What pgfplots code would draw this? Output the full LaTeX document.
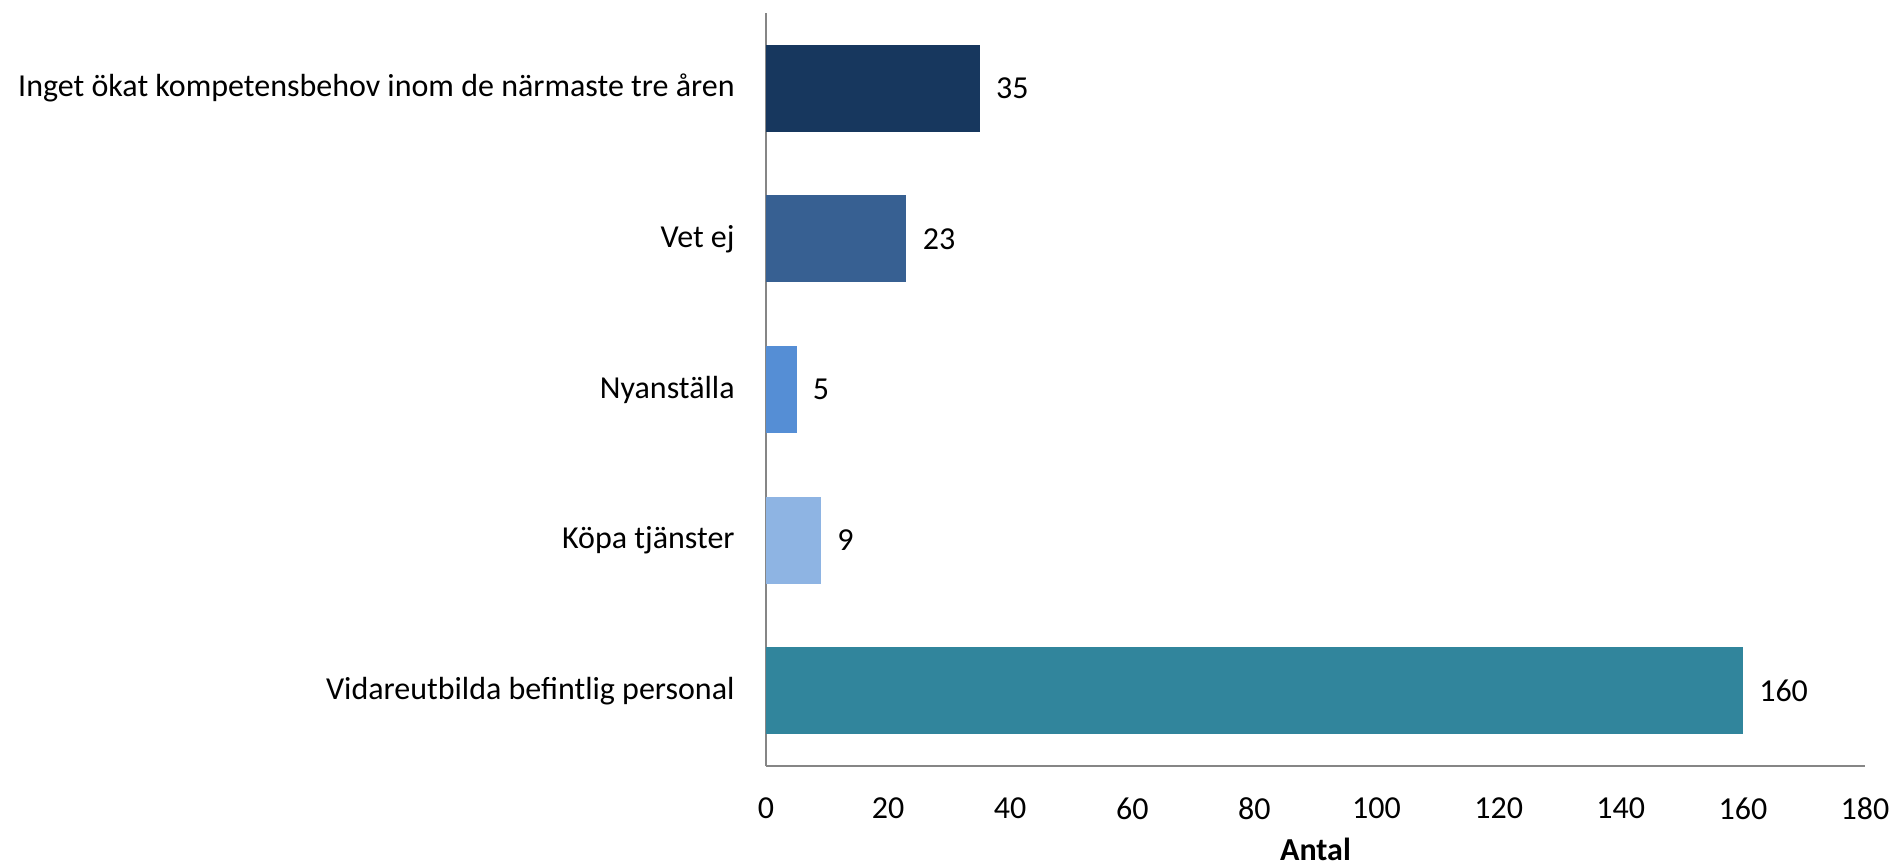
\documentclass[border=0pt]{standalone}
\usepackage{fontspec}
\setmainfont{Carlito}
\usepackage{pgfplots}
\pgfplotsset{compat=1.18}

\definecolor{axgray}{HTML}{868686}
\definecolor{cA}{HTML}{17375E}
\definecolor{cB}{HTML}{376092}
\definecolor{cC}{HTML}{558ED5}
\definecolor{cD}{HTML}{8EB4E3}
\definecolor{cE}{HTML}{31859C}

\begin{document}
\begin{tikzpicture}
% canvas: 1895x867 px at 0.5pt per px, axis box lower-left at (766,766) px
\path[use as bounding box] (-383pt,-50.5pt) rectangle (564.5pt,383pt);
\begin{axis}[
    scale only axis,
    width=549.5pt, height=376.5pt,
    xbar, bar width=43.5pt,
    xmin=0, xmax=180,
    ymin=-0.5, ymax=4.5,
    xtick={0,20,...,180},
    ytick={0,1,2,3,4},
    yticklabels={Vidareutbilda befintlig personal, Köpa tjänster, Nyanställa, Vet ej, Inget ökat kompetensbehov inom de närmaste tre åren},
    axis x line*=bottom, axis y line*=left,
    axis line style={draw=axgray, line width=1.2pt, -},
    major tick length=0pt,
    tick style={draw=none},
    font=\fontsize{16}{19}\selectfont,
    /pgf/number format/assume math mode=true,
    xticklabel style={anchor=north, inner sep=0pt, yshift=-15.5pt},
    yticklabel style={anchor=east, inner sep=0pt, xshift=-15.5pt},
    xlabel={\textbf{Antal}},
    xlabel style={at={(axis description cs:0.5,0)}, anchor=center, yshift=-41.5pt},
    nodes near coords,
    every node near coord/.append style={anchor=west, inner sep=0pt, xshift=8pt, font=\fontsize{16}{19}\selectfont},
]
\addplot[fill=cE, draw=none, bar shift=0pt] coordinates {(160,0)};
\addplot[fill=cD, draw=none, bar shift=0pt] coordinates {(9,1)};
\addplot[fill=cC, draw=none, bar shift=0pt] coordinates {(5,2)};
\addplot[fill=cB, draw=none, bar shift=0pt] coordinates {(23,3)};
\addplot[fill=cA, draw=none, bar shift=0pt] coordinates {(35,4)};
\end{axis}
\end{tikzpicture}
\end{document}
